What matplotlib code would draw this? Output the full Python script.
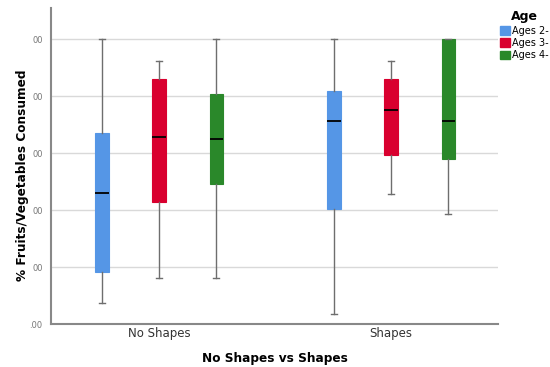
import matplotlib
matplotlib.use("Agg")
import matplotlib.pyplot as plt
from matplotlib.patches import Patch

groups = ["No Shapes", "Shapes"]
ages = ["Ages 2-", "Ages 3-", "Ages 4-"]
colors = ["#5596e6", "#d9002f", "#2a882a"]

# five-number summaries, per group then per age
whislo = [[0.075, 0.160, 0.160], [0.034, 0.457, 0.385]]
q1     = [[0.182, 0.430, 0.491], [0.404, 0.593, 0.578]]
med    = [[0.459, 0.658, 0.649], [0.711, 0.752, 0.711]]
q3     = [[0.671, 0.859, 0.807], [0.819, 0.861, 1.000]]
whishi = [[1.000, 0.923, 1.000], [1.000, 0.925, 1.000]]

yticks = [0.0, 0.2, 0.4, 0.6, 0.8, 1.0]
ytick_labels = [".00", "00", "00", "00", "00", "00"]

fig = plt.figure(figsize=(5.5, 3.67), dpi=100)
ax = fig.add_axes([0.0927, 0.117, 0.8128, 0.861])

offsets = [-0.246, 0.0, 0.246]
for g in range(len(groups)):
    for a in range(len(ages)):
        st = [dict(whislo=whislo[g][a], q1=q1[g][a], med=med[g][a],
                   q3=q3[g][a], whishi=whishi[g][a], fliers=[])]
        ax.bxp(st, positions=[g + offsets[a]], widths=0.057, patch_artist=True,
               showfliers=False,
               boxprops=dict(facecolor=colors[a], edgecolor=colors[a], linewidth=0.8),
               medianprops=dict(color="black", linewidth=1.3),
               whiskerprops=dict(color="#6e6e6e", linewidth=1.0),
               capprops=dict(color="#6e6e6e", linewidth=1.0),
               capwidths=0.025, zorder=3)

ax.set_xlim(-0.466, 1.461)
ax.set_ylim(0, 1.109)
ax.set_xticks(range(len(groups)))
ax.set_xticklabels(groups, fontsize=8.5, color="#333333")
ax.set_yticks(yticks)
ax.set_yticklabels(ytick_labels, fontsize=6, color="#777777")
ax.tick_params(axis="x", length=0, pad=2)
ax.tick_params(axis="y", length=0, pad=6)
ax.yaxis.grid(True, color="#d9d9d9", linewidth=1.0, zorder=0)
ax.set_axisbelow(True)
for s in ["top", "right"]:
    ax.spines[s].set_visible(False)
for s in ["left", "bottom"]:
    ax.spines[s].set_color("#888888")
    ax.spines[s].set_linewidth(1.5)

ax.set_xlabel("No Shapes vs Shapes", fontsize=8.7, fontweight="bold", labelpad=9)
ax.set_ylabel("% Fruits/Vegetables Consumed", fontsize=8.7, fontweight="bold")
ax.yaxis.set_label_coords(-0.049, 0.47)

handles = [Patch(facecolor=c, edgecolor=c) for c in colors]
leg = fig.legend(handles, ages, loc="upper left", bbox_to_anchor=(0.908, 0.975),
                 frameon=False, fontsize=7, title="Age",
                 handlelength=1.0, handleheight=1.0, handletextpad=0.2,
                 labelspacing=0.25, borderaxespad=0, borderpad=0.1)
leg.get_title().set_fontweight("bold")
leg.get_title().set_fontsize(9)

fig.savefig("out.png", dpi=100)
